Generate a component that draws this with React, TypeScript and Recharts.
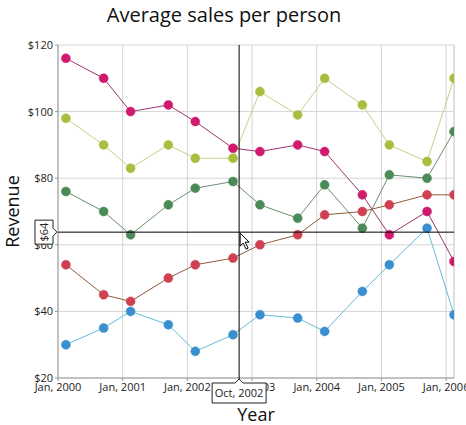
import React from "react";
import {
  LineChart,
  Line,
  XAxis,
  YAxis,
  CartesianGrid,
  ReferenceLine,
  Label,
} from "recharts";

const dates = [
  "2000-02-15", "2000-09-15", "2001-02-15", "2001-09-15", "2002-02-15",
  "2002-09-15", "2003-02-15", "2003-09-15", "2004-02-15", "2004-09-15",
  "2005-02-15", "2005-09-15", "2006-02-15",
];
const pinkValues = [116, 110, 100, 102, 97, 89, 88, 90, 88, 75, 63, 70, 55];
const limeValues = [98, 90, 83, 90, 86, 86, 106, 99, 110, 102, 90, 85, 110];
const greenValues = [76, 70, 63, 72, 77, 79, 72, 68, 78, 65, 81, 80, 94];
const redValues = [54, 45, 43, 50, 54, 56, 60, 63, 69, 70, 72, 75, 75];
const blueValues = [30, 35, 40, 36, 28, 33, 39, 38, 34, 46, 54, 65, 39];

const yTicks = [20, 40, 60, 80, 100, 120];
const xTickYears = [2000, 2001, 2002, 2003, 2004, 2005, 2006];
const crosshairX = 2002.8;
const crosshairXLabel = "Oct, 2002";
const crosshairY = 63.8;
const crosshairYLabel = "$64";

const toYear = (d: string) => {
  const [y, m, day] = d.split("-").map(Number);
  return y + (m - 1 + (day - 1) / 30) / 12;
};

const data = dates.map((d, i) => ({
  t: toYear(d),
  pink: pinkValues[i],
  lime: limeValues[i],
  green: greenValues[i],
  red: redValues[i],
  blue: blueValues[i],
}));

const FONT = "'Segoe UI', 'Open Sans', sans-serif";

const series = [
  { key: "lime", line: "#c6cf86", dot: "#a9bd3f" },
  { key: "pink", line: "#9c3570", dot: "#d01a6e" },
  { key: "green", line: "#6a8f70", dot: "#4b8a57" },
  { key: "red", line: "#8f5c3c", dot: "#cf4050" },
  { key: "blue", line: "#62bdd6", dot: "#3a8fd0" },
];

let crosshairYPx = 232;

const XCallout = (props: any) => {
  const vb = props.viewBox || {};
  const x = vb.x;
  const bottom = vb.y + vb.height;
  const top = bottom + 5;
  const h = 20;
  const w = 54;
  const l = x - w / 2;
  const r = x + w / 2;
  const path = `M${l} ${top} L${x - 4} ${top} L${x} ${top - 4} L${x + 4} ${top} L${r} ${top} L${r} ${top + h} L${l} ${top + h} Z`;
  return (
    <g>
      <line x1={x} y1={bottom} x2={x} y2={top - 4} stroke="#000" strokeWidth={1} />
      <path d={path} fill="#fff" stroke="#222" strokeWidth={1} strokeLinejoin="round" />
      <text x={x} y={top + 14} textAnchor="middle" fontSize={11} fontFamily={FONT} fill="#222">
        {crosshairXLabel}
      </text>
    </g>
  );
};

const YCallout = (props: any) => {
  const vb = props.viewBox || {};
  const x = vb.x;
  const y = vb.y;
  crosshairYPx = y;
  const r = x - 5;
  const l = r - 18;
  const t = y - 12;
  const b = y + 12;
  const path = `M${l} ${t} L${r} ${t} L${r} ${y - 4} L${x - 1} ${y} L${r} ${y + 4} L${r} ${b} L${l} ${b} Z`;
  const cx = (l + r) / 2;
  return (
    <g>
      <path d={path} fill="#fff" stroke="#222" strokeWidth={1} strokeLinejoin="round" />
      <text
        x={cx}
        y={y}
        transform={`rotate(-90 ${cx} ${y})`}
        textAnchor="middle"
        dominantBaseline="central"
        fontSize={11}
        fontFamily={FONT}
        fill="#222"
      >
        {crosshairYLabel}
      </text>
    </g>
  );
};

const Cursor = (props: any) => {
  const vb = props.viewBox || {};
  const x = vb.x + 1;
  const y = crosshairYPx + 1;
  const pts = [
    [0, 0], [0, 13], [3, 10], [6, 16], [8, 15], [5, 9], [9, 9],
  ]
    .map(([a, b]) => `${x + a},${y + b}`)
    .join(" ");
  return <polygon points={pts} fill="#fff" stroke="#000" strokeWidth={1} />;
};

export default function App() {
  return (
    <div style={{ position: "absolute", left: 0, top: 0, width: 466, height: 425, background: "#fff" }}>
      <svg width={466} height={30} style={{ position: "absolute", left: 0, top: 0 }}>
        <text x={224} y={22} textAnchor="middle" fontSize={20} fontFamily={FONT} fill="#111">
          Average sales per person
        </text>
      </svg>
      <LineChart
        width={466}
        height={425}
        data={data}
        margin={{ top: 45, right: 12, bottom: 0, left: 0 }}
      >
        <CartesianGrid stroke="#d4d4d4" strokeWidth={1} />
        <XAxis
          dataKey="t"
          type="number"
          domain={[2000, toYear(dates[dates.length - 1])]}
          ticks={xTickYears}
          tickFormatter={(v: number) => `Jan, ${v}`}
          allowDataOverflow
          height={47}
          stroke="#999"
          tickSize={3}
          tick={{ fontSize: 11, fontFamily: FONT, fill: "#222" }}
          interval={0}
        >
          <Label value="Year" position="insideBottom" offset={4} fontSize={18} fontFamily={FONT} fill="#111" />
        </XAxis>
        <YAxis
          type="number"
          domain={[20, 120]}
          ticks={yTicks}
          tickFormatter={(v: number) => `$${v}`}
          width={58}
          stroke="#999"
          tickSize={3}
          tick={{ fontSize: 11, fontFamily: FONT, fill: "#222" }}
          interval={0}
        >
          <Label value="Revenue" angle={-90} position="insideLeft" offset={13} fontSize={18} fontFamily={FONT} fill="#111" style={{ textAnchor: "middle" }} />
        </YAxis>
        <ReferenceLine x={toYear(dates[dates.length - 1])} stroke="#d4d4d4" />
        {series.map((s) => (
          <Line
            key={s.key}
            dataKey={s.key}
            type="linear"
            stroke={s.line}
            strokeWidth={1}
            dot={{ r: 4.5, fill: s.dot, stroke: s.dot, strokeWidth: 0.5 }}
            isAnimationActive={false}
          />
        ))}
        <ReferenceLine y={crosshairY} stroke="#000" strokeWidth={1} label={<YCallout />} zIndex={3000} />
        <ReferenceLine x={crosshairX} stroke="#000" strokeWidth={1} label={<XCallout />} zIndex={3000} />
        <ReferenceLine x={crosshairX} stroke="none" label={<Cursor />} zIndex={3000} />
      </LineChart>
    </div>
  );
}
